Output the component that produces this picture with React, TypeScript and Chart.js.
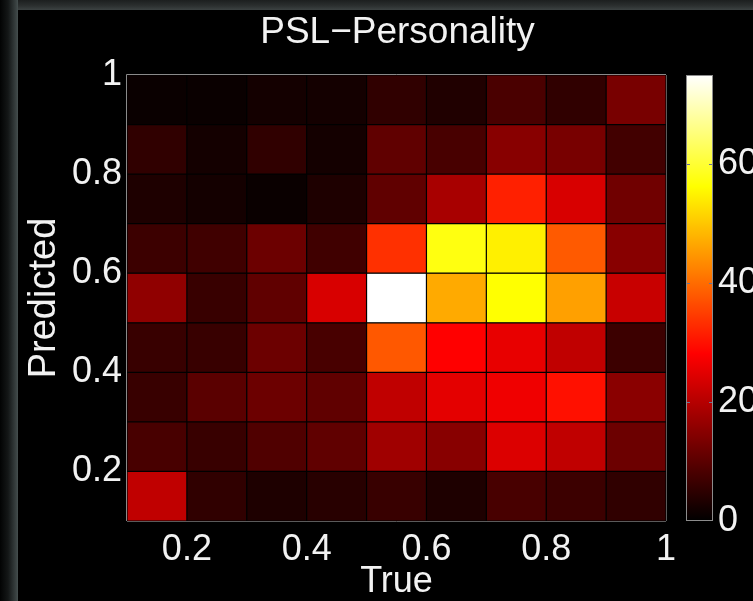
import { useEffect, useRef } from 'react';
import { Chart, registerables } from 'chart.js';

Chart.register(...registerables);

const titleText = 'PSL−Personality';
const xLabel = 'True';
const yLabel = 'Predicted';

// bins (True on x, Predicted on y)
const binLow = [0.1, 0.2, 0.3, 0.4, 0.5, 0.6, 0.7, 0.8, 0.9];
const binHigh = [0.2, 0.3, 0.4, 0.5, 0.6, 0.7, 0.8, 0.9, 1.0];
const binCenter = [0.15, 0.25, 0.35, 0.45, 0.55, 0.65, 0.75, 0.85, 0.95];

const axisTicks = [0.2, 0.4, 0.6, 0.8, 1];
const colorTicks = [0, 20, 40, 60];
const colorMax = 75;

// counts per Predicted bin; each array runs over True bins 0.1 → 1.0
const pred_0_1 = [21.2, 5.3, 3.3, 4.4, 6.2, 3.3, 7.9, 6.6, 5.3];
const pred_0_2 = [7.9, 6.2, 8.8, 10.6, 17.6, 15.0, 24.3, 21.2, 11.9];
const pred_0_3 = [6.2, 9.9, 11.9, 10.6, 21.2, 25.1, 26.5, 29.9, 15.2];
const pred_0_4 = [6.2, 6.2, 11.9, 7.9, 37.8, 28.1, 25.6, 21.2, 6.6];
const pred_0_5 = [15.9, 6.2, 10.6, 23.8, 75.0, 46.9, 56.3, 45.8, 22.1];
const pred_0_6 = [6.6, 7.1, 11.9, 7.1, 33.4, 57.4, 54.6, 38.0, 15.0];
const pred_0_7 = [3.3, 2.2, 1.1, 3.3, 10.6, 18.5, 31.7, 23.8, 12.4];
const pred_0_8 = [5.3, 2.2, 5.3, 2.2, 10.6, 7.9, 15.0, 13.2, 7.3];
const pred_0_9 = [1.1, 1.1, 2.2, 2.2, 5.3, 3.5, 8.2, 5.3, 13.2];

const predRows = [pred_0_1, pred_0_2, pred_0_3, pred_0_4, pred_0_5, pred_0_6, pred_0_7, pred_0_8, pred_0_9];

const FONT = '"Liberation Sans", Arial, Helvetica, sans-serif';

function clamp01(v: number) {
  return Math.max(0, Math.min(1, v));
}

function hot(t: number): string {
  const u = clamp01(t);
  const r = clamp01(u / 0.375);
  const g = clamp01((u - 0.375) / 0.375);
  const b = clamp01((u - 0.75) / 0.25);
  return `rgb(${Math.round(r * 255)},${Math.round(g * 255)},${Math.round(b * 255)})`;
}

function fmt(v: number) {
  return String(Number(v.toFixed(1)));
}

const titlePlugin = {
  id: 'plotTitle',
  afterDraw(chart: any) {
    const { ctx, chartArea } = chart;
    ctx.save();
    ctx.fillStyle = '#f2f2f2';
    ctx.font = `37px ${FONT}`;
    ctx.textAlign = 'center';
    ctx.textBaseline = 'alphabetic';
    ctx.fillText(titleText, (chartArea.left + chartArea.right) / 2 + 1, 43);
    ctx.restore();
  },
};

const boxPlugin = {
  id: 'axisBox',
  afterDatasetsDraw(chart: any) {
    const { ctx, chartArea } = chart;
    const { left, right, top, bottom } = chartArea;
    ctx.save();
    ctx.lineWidth = 1;
    ctx.strokeStyle = '#5a5a5a';
    ctx.beginPath();
    ctx.moveTo(left, bottom + 0.5);
    ctx.lineTo(right, bottom + 0.5);
    ctx.moveTo(right + 0.5, top);
    ctx.lineTo(right + 0.5, bottom);
    ctx.stroke();
    ctx.strokeStyle = '#8a8a8a';
    ctx.beginPath();
    ctx.moveTo(left - 0.5, bottom);
    ctx.lineTo(left - 0.5, top - 0.5);
    ctx.lineTo(right, top - 0.5);
    ctx.stroke();
    ctx.restore();
  },
};

const colorbarPlugin = {
  id: 'colorbar',
  afterDraw(chart: any) {
    const { ctx, chartArea } = chart;
    const cb = chart.scales.y2;
    const x0 = chartArea.right + 20;
    const w = 27;
    const yTop = cb.getPixelForValue(colorMax);
    const yBot = cb.getPixelForValue(0);
    ctx.save();
    const grad = ctx.createLinearGradient(0, yBot, 0, yTop);
    const n = 64;
    for (let i = 0; i <= n; i++) {
      grad.addColorStop(i / n, hot(i / n));
    }
    ctx.fillStyle = grad;
    ctx.fillRect(x0, yTop, w, yBot - yTop);
    ctx.strokeStyle = '#8c8c8c';
    ctx.lineWidth = 1;
    ctx.strokeRect(x0 + 0.5, yTop + 0.5, w - 1, yBot - yTop - 1);
    ctx.strokeStyle = '#6c7494';
    ctx.beginPath();
    colorTicks.forEach((v) => {
      if (v <= 0) return;
      const y = Math.round(cb.getPixelForValue(v)) + 0.5;
      ctx.moveTo(x0 + 1, y);
      ctx.lineTo(x0 + 4, y);
      ctx.moveTo(x0 + w - 4, y);
      ctx.lineTo(x0 + w - 1, y);
    });
    ctx.stroke();
    ctx.restore();
  },
};

export default function App() {
  const canvasRef = useRef<HTMLCanvasElement | null>(null);

  useEffect(() => {
    const canvas = canvasRef.current;
    if (!canvas) return;

    const points: any[] = [];
    const colors: string[] = [];
    predRows.forEach((row, i) => {
      row.forEach((v, j) => {
        points.push({ x: binCenter[j], y: [binLow[i], binHigh[i]], v });
        colors.push(hot(v / colorMax));
      });
    });

    const tickFont = { family: FONT, size: 36 };

    const chart = new Chart(canvas, {
      type: 'bar',
      data: {
        datasets: [
          {
            data: points,
            backgroundColor: colors,
            borderColor: 'rgba(0,0,0,0.6)',
            borderWidth: 0.6,
            borderSkipped: false,
            barPercentage: 1,
            categoryPercentage: 1,
            grouped: false,
            inflateAmount: 0,
          } as any,
        ],
      },
      options: {
        responsive: false,
        animation: false,
        devicePixelRatio: 1,
        layout: { padding: { top: 75, left: 0, right: 0, bottom: 0 } },
        plugins: {
          legend: { display: false },
          tooltip: { enabled: false },
          title: { display: false },
        },
        scales: {
          x: {
            type: 'linear',
            min: 0.1,
            max: 1,
            offset: false,
            grid: { display: false, drawTicks: false },
            border: { display: false },
            afterBuildTicks: (s: any) => {
              s.ticks = axisTicks.map((v) => ({ value: v }));
            },
            afterFit: (s: any) => {
              s.height = 80;
            },
            ticks: {
              color: '#f2f2f2',
              font: tickFont,
              padding: 7,
              autoSkip: false,
              maxRotation: 0,
              callback: (v: any) => fmt(Number(v)),
            },
            title: {
              display: true,
              text: xLabel,
              color: '#f2f2f2',
              font: { family: FONT, size: 36, lineHeight: 1.05 },
              padding: { top: 0, bottom: 0 },
            },
          },
          y: {
            type: 'linear',
            min: 0.1,
            max: 1,
            grid: { display: false, drawTicks: false },
            border: { display: false },
            afterBuildTicks: (s: any) => {
              s.ticks = axisTicks.map((v) => ({ value: v }));
            },
            afterFit: (s: any) => {
              s.width = 127;
            },
            ticks: {
              color: '#f2f2f2',
              font: tickFont,
              padding: 5,
              autoSkip: false,
              callback: (v: any) => fmt(Number(v)),
            },
            title: {
              display: true,
              text: yLabel,
              color: '#f2f2f2',
              font: { family: FONT, size: 38 },
              padding: { top: 22, bottom: 0 },
            },
          },
          y2: {
            type: 'linear',
            position: 'right',
            min: 0,
            max: colorMax,
            grid: { display: false, drawTicks: false },
            border: { display: false },
            afterBuildTicks: (s: any) => {
              s.ticks = colorTicks.map((v) => ({ value: v }));
            },
            afterFit: (s: any) => {
              s.width = 87;
            },
            ticks: {
              color: '#f2f2f2',
              font: tickFont,
              padding: 52,
              autoSkip: false,
              callback: (v: any) => String(v),
            },
          },
        },
      } as any,
      plugins: [boxPlugin, colorbarPlugin, titlePlugin],
    });

    return () => {
      chart.destroy();
    };
  }, []);

  return (
    <div
      style={{
        position: 'absolute',
        left: 0,
        top: 0,
        width: 753,
        height: 601,
        background: '#000',
        overflow: 'hidden',
      }}
    >
      <div
        style={{
          position: 'absolute',
          left: 0,
          top: 0,
          width: 18,
          height: 601,
          background: 'linear-gradient(to right, #020303 0%, #141717 45%, #3a4242 90%, #465050 100%)',
        }}
      />
      <div
        style={{
          position: 'absolute',
          left: 18,
          top: 0,
          width: 735,
          height: 10,
          background: 'linear-gradient(to bottom, #1c1f1f 0%, #2c3030 60%, #3c4242 100%)',
        }}
      />
      <canvas
        ref={canvasRef}
        width={753}
        height={601}
        style={{ position: 'absolute', left: 0, top: 0, display: 'block' }}
      />
    </div>
  );
}
